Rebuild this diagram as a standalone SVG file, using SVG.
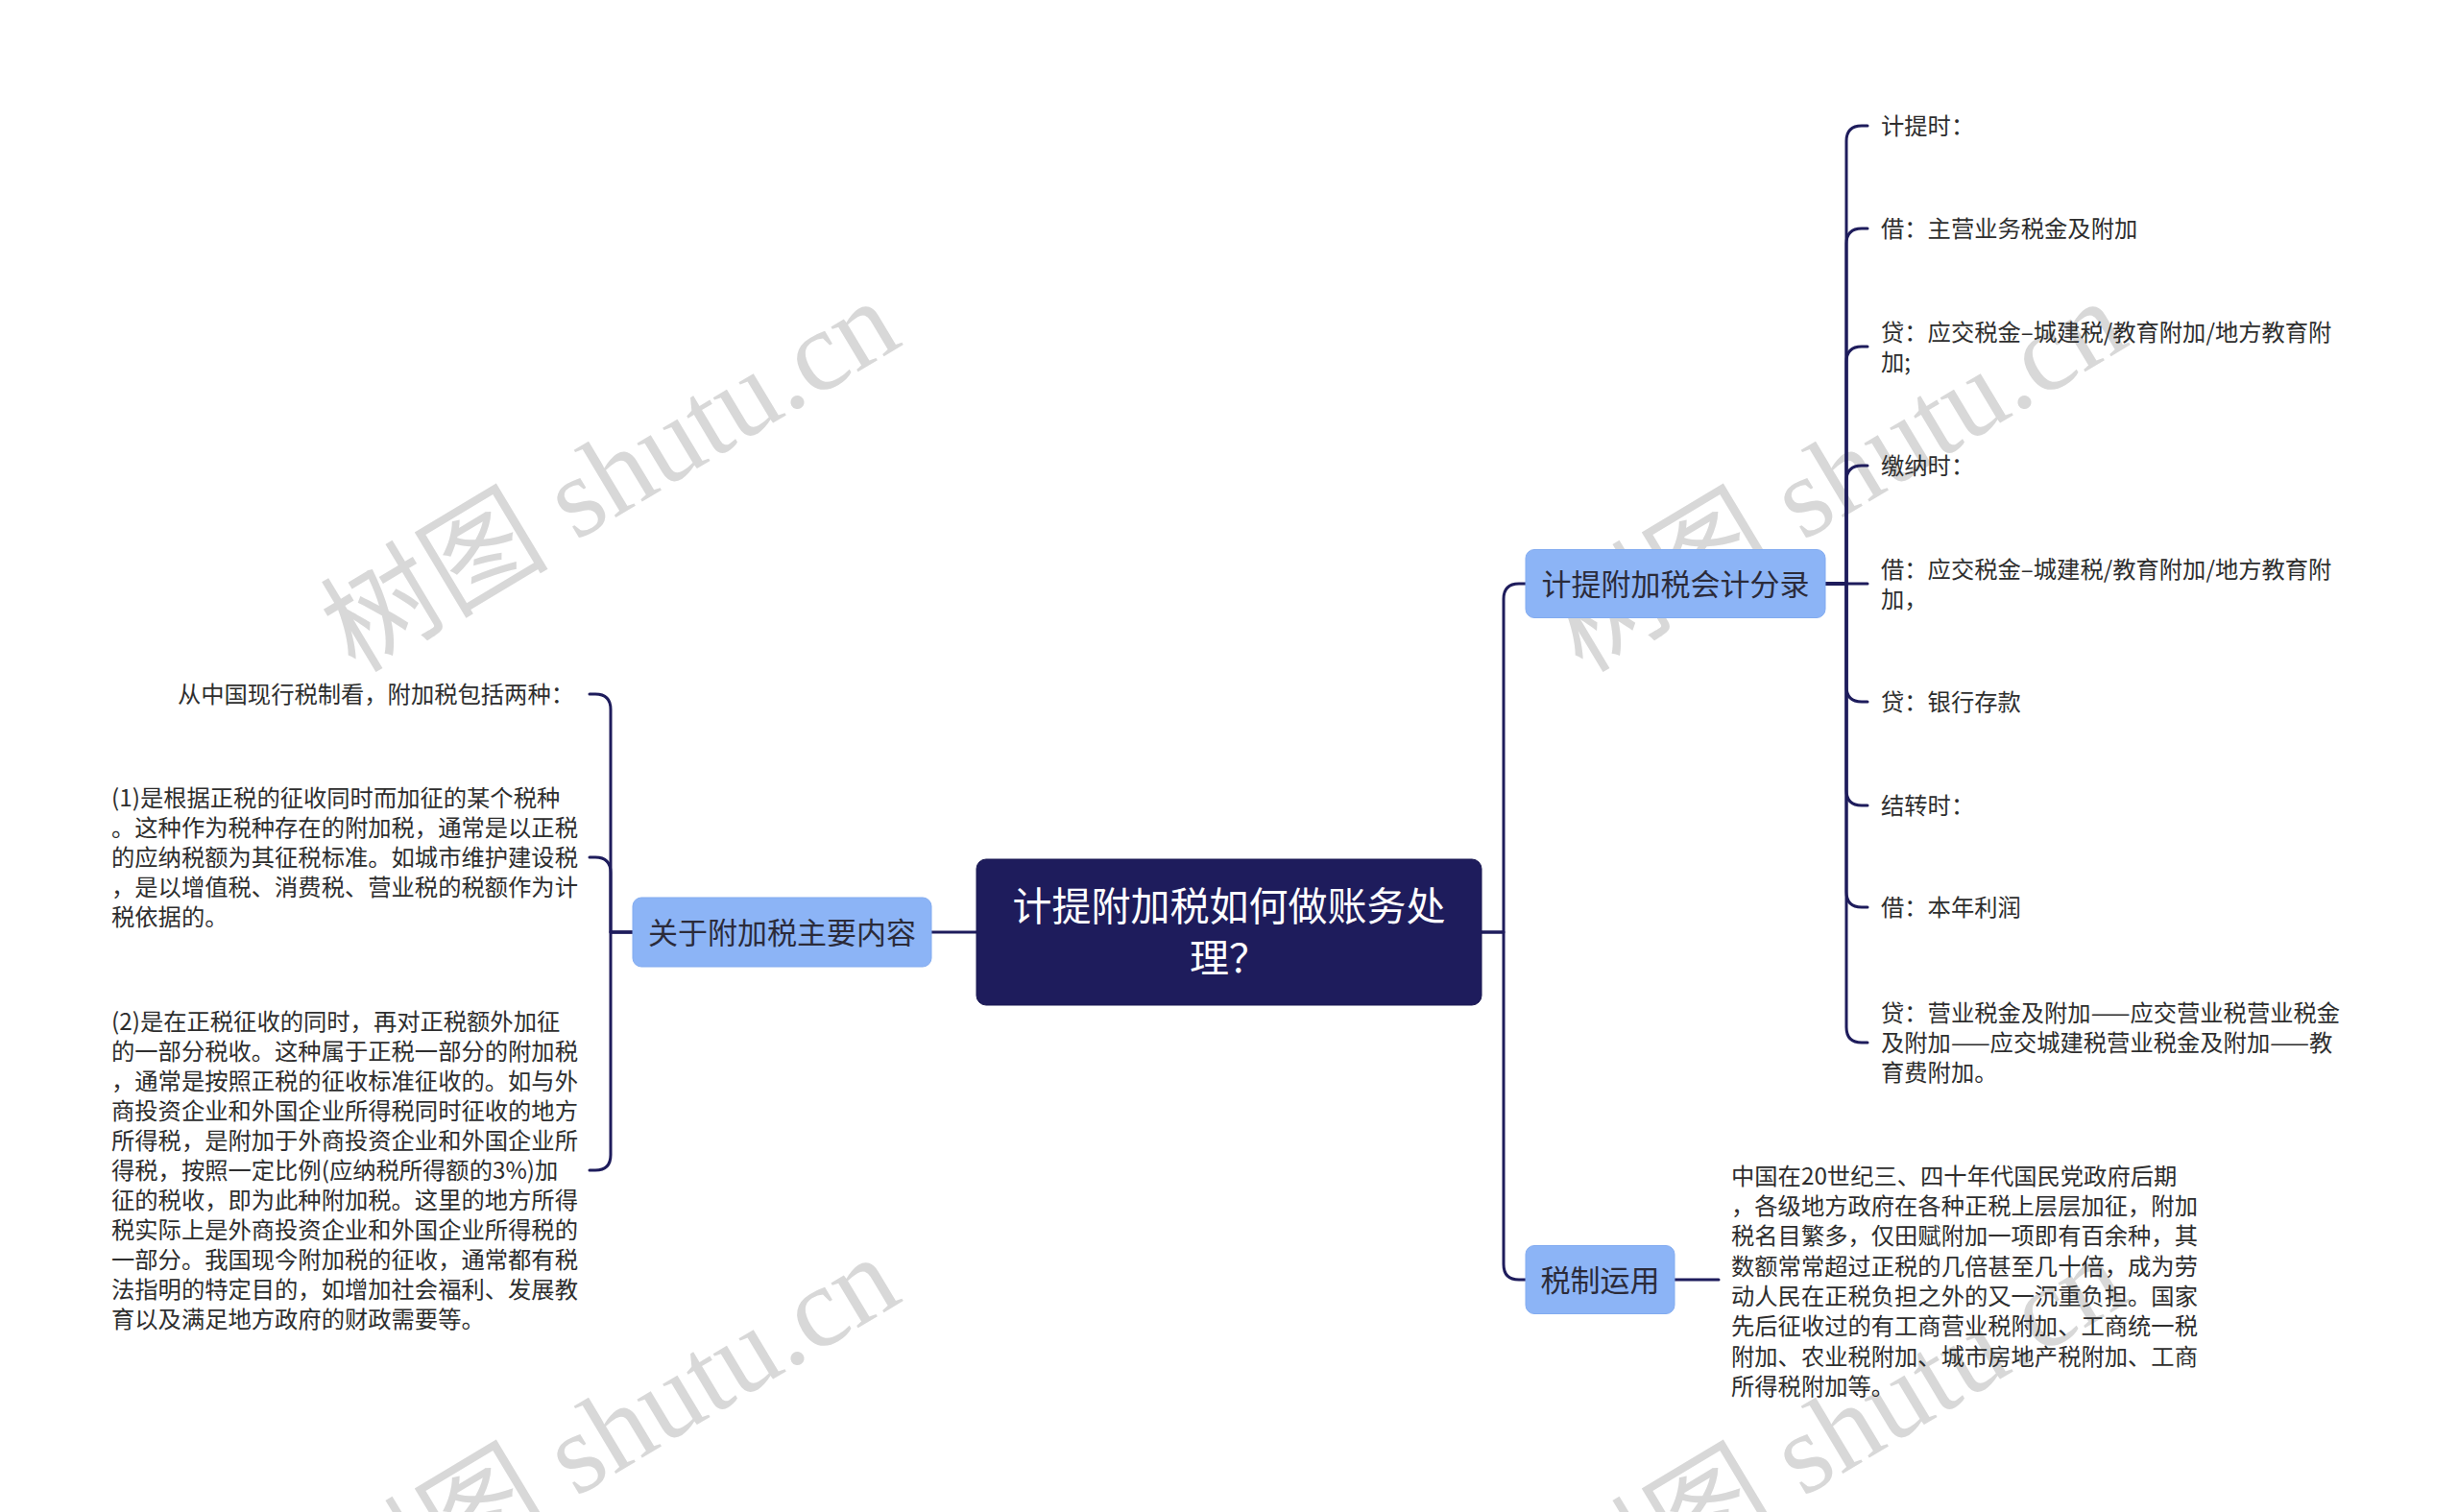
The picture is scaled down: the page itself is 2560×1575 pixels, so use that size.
<svg xmlns="http://www.w3.org/2000/svg" width="2560" height="1575" viewBox="0 0 2560 1575">
<defs>
<style>
.bg{fill:#ffffff}
.wm{font-family:"Liberation Serif","Noto Sans CJK SC",serif;font-size:119px;fill:#d2d2d2;opacity:0.85}
.conn{fill:none;stroke:#1e1c5c;stroke-width:3;stroke-linecap:round;stroke-linejoin:round}
.root{fill:#1e1c5c;stroke:#1a1852;stroke-width:1}
.sub{fill:#8cb4f6;stroke:#82abf0;stroke-width:1}
.rt{font-family:"Noto Sans CJK SC","Noto Sans",sans-serif;font-size:41px;fill:#ffffff;text-anchor:middle}
.st{font-family:"Noto Sans CJK SC","Noto Sans",sans-serif;font-size:31px;fill:#2b2b3a;text-anchor:middle}
.lt{font-family:"Noto Sans CJK SC","Noto Sans",sans-serif;font-size:24.3px;fill:#2e2e2e}
</style>
</defs>
<rect class="bg" x="0" y="0" width="2560" height="1575"/>
<g id="watermark">
<text class="wm" transform="translate(370,702) rotate(-31)">树图 shutu.cn</text>
<text class="wm" transform="translate(1648,702) rotate(-31)">树图 shutu.cn</text>
<text class="wm" transform="translate(370,1698) rotate(-31)">树图 shutu.cn</text>
<text class="wm" transform="translate(1648,1698) rotate(-31)">树图 shutu.cn</text>
</g>
<g id="connectors">
<path class="conn" d="M1017 971 H970"/>
<path class="conn" d="M1543 971 H1566 V624 Q1566 608 1582 608 H1589"/>
<path class="conn" d="M1543 971 H1566 V1317 Q1566 1333 1582 1333 H1589"/>
<path class="conn" d="M1744 1333 H1790"/>
<path class="conn" d="M659 971 H636 V739 Q636 723 620 723 H614"/>
<path class="conn" d="M659 971 H636 V909 Q636 893 620 893 H614"/>
<path class="conn" d="M659 971 H636 V1203 Q636 1219 620 1219 H614"/>
<path class="conn" d="M1901 608 H1923 V147 Q1923 131 1939 131 H1945"/>
<path class="conn" d="M1901 608 H1923 V254 Q1923 238 1939 238 H1945"/>
<path class="conn" d="M1901 608 H1923 V377 Q1923 361 1939 361 H1945"/>
<path class="conn" d="M1901 608 H1923 V501 Q1923 485 1939 485 H1945"/>
<path class="conn" d="M1901 608 H1945"/>
<path class="conn" d="M1901 608 H1923 V715 Q1923 731 1939 731 H1945"/>
<path class="conn" d="M1901 608 H1923 V823 Q1923 839 1939 839 H1945"/>
<path class="conn" d="M1901 608 H1923 V929 Q1923 945 1939 945 H1945"/>
<path class="conn" d="M1901 608 H1923 V1070 Q1923 1086 1939 1086 H1945"/>
</g>
<g id="root">
<rect class="root" x="1017" y="895" width="526" height="152" rx="10"/>
<text class="rt" x="1280" y="959">计提附加税如何做账务处</text>
<text class="rt" x="1280" y="1013">理？</text>
</g>
<g id="node-left">
<rect class="sub" x="659" y="935" width="311" height="72" rx="9"/>
<text class="st" x="814.5" y="983">关于附加税主要内容</text>
</g>
<g id="node-entries">
<rect class="sub" x="1589" y="572.5" width="312" height="71" rx="9"/>
<text class="st" x="1745" y="620">计提附加税会计分录</text>
</g>
<g id="node-usage">
<rect class="sub" x="1589" y="1297.5" width="155" height="71" rx="9"/>
<text class="st" x="1666.5" y="1345">税制运用</text>
</g>
<g id="left-item-1">
<text class="lt" x="598" y="732" text-anchor="end">从中国现行税制看，附加税包括两种：</text>
</g>
<g id="left-item-2">
<text class="lt" x="116" y="840">(1)是根据正税的征收同时而加征的某个税种</text>
<text class="lt" x="116" y="871">。这种作为税种存在的附加税，通常是以正税</text>
<text class="lt" x="116" y="902">的应纳税额为其征税标准。如城市维护建设税</text>
<text class="lt" x="116" y="933">，是以增值税、消费税、营业税的税额作为计</text>
<text class="lt" x="116" y="964">税依据的。</text>
</g>
<g id="left-item-3">
<text class="lt" x="116" y="1073">(2)是在正税征收的同时，再对正税额外加征</text>
<text class="lt" x="116" y="1104">的一部分税收。这种属于正税一部分的附加税</text>
<text class="lt" x="116" y="1135">，通常是按照正税的征收标准征收的。如与外</text>
<text class="lt" x="116" y="1166">商投资企业和外国企业所得税同时征收的地方</text>
<text class="lt" x="116" y="1197">所得税，是附加于外商投资企业和外国企业所</text>
<text class="lt" x="116" y="1228">得税，按照一定比例(应纳税所得额的3%)加</text>
<text class="lt" x="116" y="1259">征的税收，即为此种附加税。这里的地方所得</text>
<text class="lt" x="116" y="1290">税实际上是外商投资企业和外国企业所得税的</text>
<text class="lt" x="116" y="1321">一部分。我国现今附加税的征收，通常都有税</text>
<text class="lt" x="116" y="1352">法指明的特定目的，如增加社会福利、发展教</text>
<text class="lt" x="116" y="1383">育以及满足地方政府的财政需要等。</text>
</g>
<g id="right-item-1"><text class="lt" x="1959" y="140">计提时：</text></g>
<g id="right-item-2"><text class="lt" x="1959" y="247">借：主营业务税金及附加</text></g>
<g id="right-item-3">
<text class="lt" x="1959" y="355">贷：应交税金–城建税/教育附加/地方教育附</text>
<text class="lt" x="1959" y="386">加;</text>
</g>
<g id="right-item-4"><text class="lt" x="1959" y="494">缴纳时：</text></g>
<g id="right-item-5">
<text class="lt" x="1959" y="602">借：应交税金–城建税/教育附加/地方教育附</text>
<text class="lt" x="1959" y="633">加，</text>
</g>
<g id="right-item-6"><text class="lt" x="1959" y="740">贷：银行存款</text></g>
<g id="right-item-7"><text class="lt" x="1959" y="848">结转时：</text></g>
<g id="right-item-8"><text class="lt" x="1959" y="954">借：本年利润</text></g>
<g id="right-item-9">
<text class="lt" x="1959" y="1064">贷：营业税金及附加——应交营业税营业税金</text>
<text class="lt" x="1959" y="1095">及附加——应交城建税营业税金及附加——教</text>
<text class="lt" x="1959" y="1126">育费附加。</text>
</g>
<g id="usage-item">
<text class="lt" x="1803" y="1234">中国在20世纪三、四十年代国民党政府后期</text>
<text class="lt" x="1803" y="1265">，各级地方政府在各种正税上层层加征，附加</text>
<text class="lt" x="1803" y="1296">税名目繁多，仅田赋附加一项即有百余种，其</text>
<text class="lt" x="1803" y="1328">数额常常超过正税的几倍甚至几十倍，成为劳</text>
<text class="lt" x="1803" y="1359">动人民在正税负担之外的又一沉重负担。国家</text>
<text class="lt" x="1803" y="1390">先后征收过的有工商营业税附加、工商统一税</text>
<text class="lt" x="1803" y="1422">附加、农业税附加、城市房地产税附加、工商</text>
<text class="lt" x="1803" y="1453">所得税附加等。</text>
</g>
</svg>
